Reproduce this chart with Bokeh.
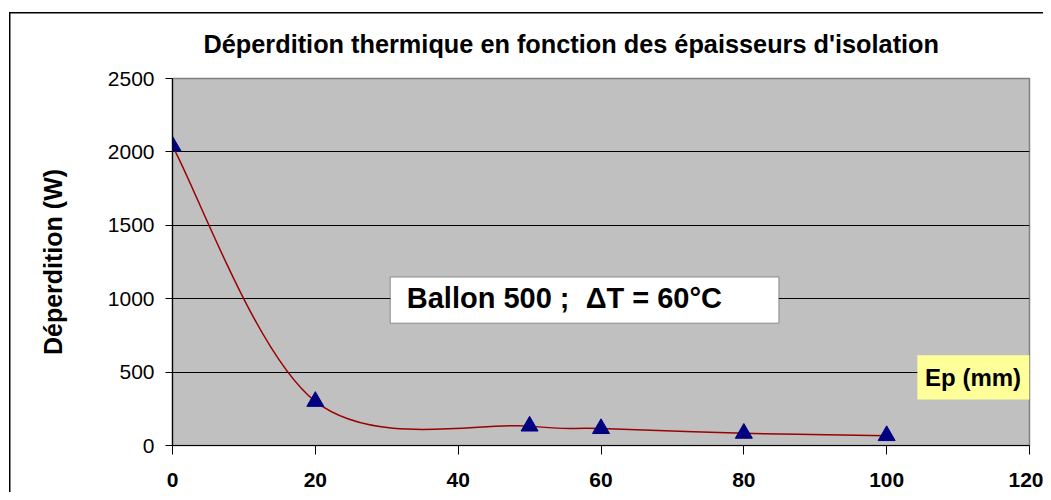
import numpy as np
from bokeh.plotting import figure
from bokeh.models import Range1d, FixedTicker, Label, BoxAnnotation, Title
from bokeh.embed import file_html
from bokeh.resources import INLINE

# Data
ep_mm = [0, 20, 50, 60, 80, 100]
deperdition_w = [2040, 300, 132, 115, 83, 67]
x_ticks = [0, 20, 40, 60, 80, 100, 120]
y_ticks = [0, 500, 1000, 1500, 2000, 2500]

title_text = "Déperdition thermique en fonction des épaisseurs d'isolation"
y_label_text = "Déperdition (W)"
x_label_text = "Ep (mm)"
note_text = "Ballon 500 ;\u00a0\u00a0\u0394T = 60°C"

FONT = "Liberation Sans"

W, H = 1043, 492
p = figure(width=W, height=H, output_backend="svg", toolbar_location=None,
           x_range=Range1d(0, 120), y_range=Range1d(0, 2500),
           min_border_left=172, min_border_right=W - 1029, min_border_top=78,
           min_border_bottom=H - 445)
p.background_fill_color = "#C0C0C0"
p.border_fill_color = None
p.outline_line_color = "#808080"
p.outline_line_width = 1.5
# outer chart frame (left and top edges), drawn behind the transparent border
p.styles = {
    "background": "linear-gradient(#000, #000) 9px 12px / 1.5px 100% no-repeat, "
                  "linear-gradient(#000, #000) 9px 12px / 100% 1.5px no-repeat, white"
}

p.title = Title(text=title_text, align="left", offset=31, standoff=41,
                text_font=FONT, text_font_size="25.3px", text_font_style="bold",
                text_color="black")

# Axes
p.xaxis.ticker = FixedTicker(ticks=x_ticks)
p.yaxis.ticker = FixedTicker(ticks=y_ticks)
for ax in (p.xaxis[0], p.yaxis[0]):
    ax.axis_line_color = "black"
    ax.axis_line_width = 1.2
    ax.major_tick_line_color = "black"
    ax.minor_tick_line_color = None
    ax.major_tick_in = 0
    ax.major_label_text_font = FONT
    ax.major_label_text_color = "black"
p.xaxis.major_tick_out = 9
p.yaxis.major_tick_out = 7
p.xaxis.major_label_text_font_size = "21px"
p.xaxis.major_label_text_font_style = "bold"
p.xaxis.major_label_standoff = 18
p.yaxis.major_label_text_font_size = "21px"
p.yaxis.major_label_standoff = 11

p.yaxis.axis_label = y_label_text
p.yaxis.axis_label_text_font = FONT
p.yaxis.axis_label_text_font_size = "25px"
p.yaxis.axis_label_text_font_style = "bold"
p.yaxis.axis_label_text_color = "black"
p.yaxis.axis_label_standoff = 38

p.xgrid.grid_line_color = None
p.ygrid.grid_line_color = "black"
p.ygrid.grid_line_width = 1.2
p.ygrid.ticker = FixedTicker(ticks=y_ticks[1:-1])

# Smoothed curve (Catmull-Rom style Bezier segments, like spreadsheet smoothing)
xs = np.array(ep_mm, dtype=float)
ys = np.array(deperdition_w, dtype=float)
n = len(xs)
x0, y0, x1, y1, cx0, cy0, cx1, cy1 = ([] for _ in range(8))
for i in range(n - 1):
    pm = i - 1 if i > 0 else i
    pp = i + 2 if i + 2 < n else i + 1
    x0.append(xs[i]); y0.append(ys[i])
    x1.append(xs[i + 1]); y1.append(ys[i + 1])
    cx0.append(xs[i] + (xs[i + 1] - xs[pm]) / 6)
    cy0.append(ys[i] + (ys[i + 1] - ys[pm]) / 6)
    cx1.append(xs[i + 1] - (xs[pp] - xs[i]) / 6)
    cy1.append(ys[i + 1] - (ys[pp] - ys[i]) / 6)
p.bezier(x0=x0, y0=y0, x1=x1, y1=y1, cx0=cx0, cy0=cy0, cx1=cx1, cy1=cy1,
         line_color="#990000", line_width=1.5)

p.scatter(ep_mm, deperdition_w, marker="triangle", size=17,
          fill_color="#000080", line_color="#000080")

# Annotation box
p.add_layout(BoxAnnotation(left=30.5, right=84.9, bottom=833, top=1147,
                           fill_color="white", fill_alpha=1,
                           line_color="black", line_width=1.2, level="overlay"))
p.add_layout(Label(x=32.8, y=1003, text=note_text, text_font=FONT,
                   text_font_size="29px", text_font_style="bold",
                   text_baseline="middle", text_color="black", level="overlay"))

# X axis title box
p.add_layout(BoxAnnotation(left=104.3, right=120, bottom=314, top=614,
                           fill_color="#FFFF99", fill_alpha=1, line_color=None, level="overlay"))
p.add_layout(Label(x=112.1, y=464, text=x_label_text, text_font=FONT,
                   text_font_size="24px", text_font_style="bold",
                   text_align="center", text_baseline="middle", text_color="black", level="overlay"))

open("out.html", "w").write(file_html(p, INLINE))
